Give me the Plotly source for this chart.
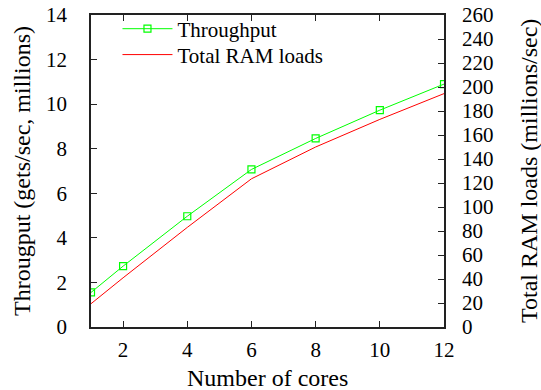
import plotly.graph_objects as go

cores = [1, 2, 4, 6, 8, 10, 12]
throughput = [1.55, 2.73, 4.97, 7.07, 8.46, 9.73, 10.9]
ram_loads = [19.4, 41.0, 83.0, 123.5, 150.0, 173.0, 194.5]

x_ticks = [2, 4, 6, 8, 10, 12]
left_ticks = list(range(0, 15, 2))
right_ticks = list(range(0, 261, 20))

FONT = "Liberation Serif, Times New Roman, serif"
GREEN = "#00ff00"
RED = "#ff0000"

fig = go.Figure()
fig.add_trace(go.Scatter(
    x=cores, y=throughput, name="Throughput", mode="lines+markers",
    line=dict(color=GREEN, width=1),
    marker=dict(symbol="square-open", size=7, color=GREEN, line=dict(width=1.2)),
    yaxis="y", legend="legend"))
fig.add_trace(go.Scatter(
    x=cores, y=ram_loads, name="Total RAM loads", mode="lines",
    line=dict(color=RED, width=1), yaxis="y2", legend="legend2"))

axis_common = dict(showline=True, linecolor="#222", linewidth=1.6,
                   ticks="inside", ticklen=6, tickcolor="#222", tickwidth=1.2,
                   showgrid=False, zeroline=False, automargin=False,
                   tickfont=dict(family=FONT, size=21, color="black"))

legend_common = dict(xanchor="left", yanchor="middle", bgcolor="rgba(0,0,0,0)",
                     font=dict(family=FONT, size=21, color="black"),
                     itemwidth=50, borderwidth=0)

fig.update_layout(
    width=541, height=390,
    margin=dict(l=91, r=97, t=15, b=63, autoexpand=False),
    paper_bgcolor="white", plot_bgcolor="white",
    font=dict(family=FONT, size=21, color="black"),
    xaxis=dict(range=[1, 12], tickvals=x_ticks, mirror="ticks",
               ticklabelstandoff=3, **axis_common),
    yaxis=dict(range=[0, 14], tickvals=left_ticks, mirror=False,
               ticklabelstandoff=18, **axis_common),
    yaxis2=dict(range=[0, 260], tickvals=right_ticks, overlaying="y",
                side="right", anchor="x", ticklabelstandoff=12, **axis_common),
    showlegend=True,
    legend=dict(x=0.075, y=0.955, **legend_common),
    legend2=dict(x=0.075, y=0.872, **legend_common),
    annotations=[
        dict(text="Number of cores", x=0.5, y=-0.1635, xref="paper", yref="paper",
             xanchor="center", yanchor="middle", showarrow=False,
             font=dict(family=FONT, size=24)),
        dict(text="Througput (gets/sec, millions)", x=-0.1955, y=0.5,
             xref="paper", yref="paper", xanchor="center", yanchor="middle",
             textangle=-90, showarrow=False, font=dict(family=FONT, size=24)),
        dict(text="Total RAM loads (millions/sec)", x=1.2408, y=0.5,
             xref="paper", yref="paper", xanchor="center", yanchor="middle",
             textangle=-90, showarrow=False, font=dict(family=FONT, size=24)),
    ],
)

fig.write_html("out.html", config={"displayModeBar": False},
               post_script="document.body.style.margin='0px';document.body.style.overflow='hidden';")
